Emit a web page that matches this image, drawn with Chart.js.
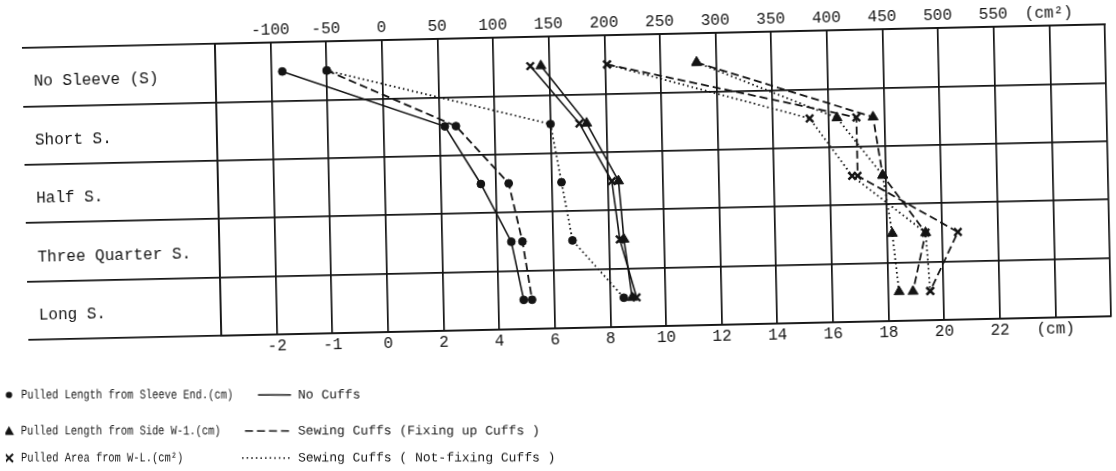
<!DOCTYPE html>
<html>
<head>
<meta charset="utf-8">
<script src="https://cdn.jsdelivr.net/npm/chart.js@4/dist/chart.umd.min.js"></script>
<style>
  html, body { margin: 0; padding: 0; background: #fff; }
  /* the scanned figure is a little tilted, so is ours */
  #wrap { width: 1116px; height: 471px; transform: rotate(-1.25deg); transform-origin: 664px 180px; }
</style>
</head>
<body>
<div id="wrap"><canvas id="chart" width="1116" height="471"></canvas></div>
<script>
const sleeveTypes = ['No Sleeve (S)', 'Short S.', 'Half S.', 'Three Quarter S.', 'Long S.'];

// pulled length from sleeve end (cm) - circles
const endNoCuffs = [-1.8, 2.2, 3.45, 4.5, 4.9];
const endFixedCuffs = [-1.0, 2.6, 4.45, 4.9, 5.2];
const endLooseCuffs = [-1.0, 6.0, 6.35, 6.7, 8.5];

// pulled length from side W-L (cm) - triangles
const sideNoCuffs = [5.7, 7.3, 8.4, 8.55, 8.8];
const sideFixedCuffs = [11.3, 17.6, 17.9, 19.4, 18.9];
const sideLooseCuffs = [11.3, 16.3, 17.9, 18.2, 18.4];

// pulled area from W-L (cm2) - crosses
const areaNoCuffs = [133, 176, 204, 210, 224];
const areaFixedCuffs = [202, 425, 425, 514, 488];
const areaLooseCuffs = [202, 383, 420, 485, 488];

// tick labels, one per grid line from -150 to 650 (cm2 units)
const areaTicks = ['', '-100', '-50', '0', '50', '100', '150', '200', '250', '300', '350',
  '400', '450', '500', '550', '(cm²)', ''];
const lengthTicks = ['', '-2', '-1', '0', '2', '4', '6', '8', '10', '12', '14',
  '16', '18', '20', '22', '(cm)', ''];

const INK = '#141414';
const FONT = 'Liberation Mono';
const TILT = 1.25 * Math.PI / 180;
const PIVOT = { x: 664, y: 180 };

// the cm scale is stretched below zero: 1 cm per grid step there, 2 cm above
function cmToGrid(cm) {
  return cm < 0 ? cm * 50 : cm * 25;
}

function makeSet(label, values, conv, marker, dash) {
  const sizes = { circle: 3.9, triangle: 5.8, crossRot: 5.2 };
  return {
    label: label,
    data: values.map(conv),
    borderColor: INK,
    borderWidth: dash ? 1.8 : 1.6,
    borderDash: dash || [],
    pointStyle: marker,
    pointRadius: sizes[marker],
    pointBackgroundColor: INK,
    pointBorderColor: INK,
    pointBorderWidth: marker == 'crossRot' ? 2.4 : 1,
    tension: 0,
    fill: false
  };
}

const DASHED = [8, 4];
const DOTTED = [1.6, 3];
const same = v => v;

const datasets = [
  makeSet('end, no cuffs', endNoCuffs, cmToGrid, 'circle', null),
  makeSet('end, fixed cuffs', endFixedCuffs, cmToGrid, 'circle', DASHED),
  makeSet('end, loose cuffs', endLooseCuffs, cmToGrid, 'circle', DOTTED),
  makeSet('side, no cuffs', sideNoCuffs, cmToGrid, 'triangle', null),
  makeSet('side, fixed cuffs', sideFixedCuffs, cmToGrid, 'triangle', DASHED),
  makeSet('side, loose cuffs', sideLooseCuffs, cmToGrid, 'triangle', DOTTED),
  makeSet('area, no cuffs', areaNoCuffs, same, 'crossRot', null),
  makeSet('area, fixed cuffs', areaFixedCuffs, same, 'crossRot', DASHED),
  makeSet('area, loose cuffs', areaLooseCuffs, same, 'crossRot', DOTTED)
];

// narrow typewriter look: draw a squeezed line of text
function squeezed(ctx, text, x, y, sx) {
  ctx.save();
  ctx.translate(x, y);
  ctx.scale(sx, 1);
  ctx.fillText(text, 0, 0);
  ctx.restore();
}

// key under the chart, drawn level (undo the tilt)
const keyBox = {
  id: 'keyBox',
  afterDraw(chart) {
    const ctx = chart.ctx;
    ctx.save();
    ctx.translate(PIVOT.x, PIVOT.y);
    ctx.rotate(TILT);
    ctx.translate(-PIVOT.x, -PIVOT.y);
    ctx.fillStyle = INK;
    ctx.strokeStyle = INK;
    ctx.font = '13px "' + FONT + '"';
    ctx.textBaseline = 'middle';

    const rows = [395, 431, 458];
    // markers
    ctx.beginPath();
    ctx.arc(9, rows[0], 3.2, 0, Math.PI * 2);
    ctx.fill();
    ctx.beginPath();
    ctx.moveTo(9, rows[1] - 5);
    ctx.lineTo(14, rows[1] + 4);
    ctx.lineTo(4, rows[1] + 4);
    ctx.closePath();
    ctx.fill();
    ctx.lineWidth = 2;
    ctx.beginPath();
    ctx.moveTo(5, rows[2] - 4); ctx.lineTo(13, rows[2] + 4);
    ctx.moveTo(13, rows[2] - 4); ctx.lineTo(5, rows[2] + 4);
    ctx.stroke();

    squeezed(ctx, 'Pulled Length from Sleeve End.(cm)', 21, rows[0], 0.8);
    squeezed(ctx, 'Pulled Length from Side W-1.(cm)', 21, rows[1], 0.8);
    squeezed(ctx, 'Pulled Area from W-L.(cm²)', 21, rows[2], 0.8);

    // line styles
    const lines = [[258, null, 'No Cuffs'], [245, DASHED, 'Sewing Cuffs (Fixing up Cuffs )'],
      [242, DOTTED, 'Sewing Cuffs ( Not-fixing Cuffs )']];
    lines.forEach((l, i) => {
      ctx.lineWidth = 1.5;
      ctx.setLineDash(l[1] || []);
      ctx.beginPath();
      ctx.moveTo(l[0], rows[i]);
      ctx.lineTo(291, rows[i]);
      ctx.stroke();
      ctx.setLineDash([]);
      squeezed(ctx, l[2], 298, rows[i], 1);
    });
    ctx.restore();
  }
};

const tickFont = { family: FONT, size: 16 };

new Chart(document.getElementById('chart'), {
  type: 'line',
  data: { labels: sleeveTypes, datasets: datasets },
  options: {
    indexAxis: 'y',
    responsive: false,
    animation: false,
    layout: { padding: { left: 36, right: 8, top: 0, bottom: 120 } },
    plugins: { legend: { display: false }, tooltip: { enabled: false } },
    scales: {
      x: {
        type: 'linear',
        position: 'bottom',
        min: -150,
        max: 650,
        afterFit: s => { s.height = 25; },
        ticks: {
          stepSize: 50,
          autoSkip: false,
          maxRotation: 0,
          padding: 2,
          color: INK,
          font: tickFont,
          callback: (v, i) => lengthTicks[i]
        },
        grid: { color: INK, lineWidth: 1.7, drawTicks: false },
        border: { color: INK, width: 1.7 }
      },
      x2: {
        type: 'linear',
        position: 'top',
        min: -150,
        max: 650,
        afterFit: s => { s.height = 34; },
        ticks: {
          stepSize: 50,
          autoSkip: false,
          maxRotation: 0,
          padding: 3,
          color: INK,
          font: tickFont,
          callback: (v, i) => areaTicks[i]
        },
        grid: { drawOnChartArea: false, drawTicks: false },
        border: { color: INK, width: 1.7 }
      },
      y: {
        type: 'category',
        offset: true,
        afterFit: s => { s.width = 182; },
        ticks: { crossAlign: 'far', labelOffset: 5, padding: 0, color: INK, font: tickFont },
        grid: { offset: true, color: INK, lineWidth: 1.7, tickLength: 193 },
        border: { color: INK, width: 1.7 }
      }
    }
  },
  plugins: [keyBox]
});
</script>
</body>
</html>
